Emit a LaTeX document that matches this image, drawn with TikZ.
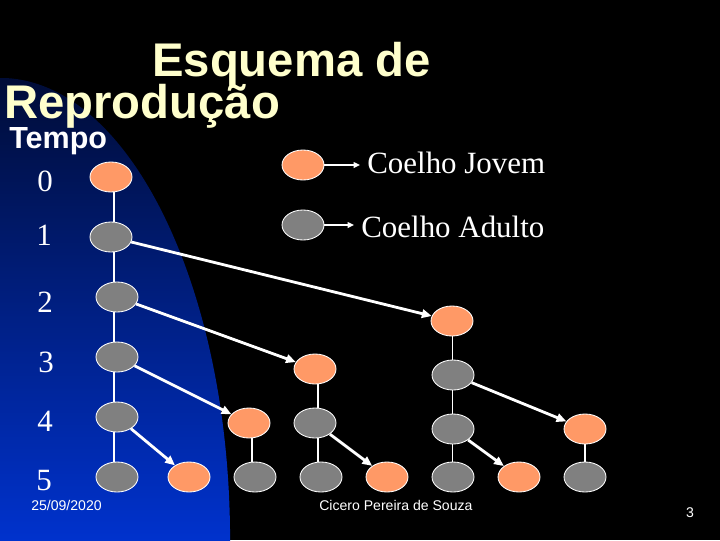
\documentclass[tikz,border=0pt]{standalone}
\usepackage{fontspec}
\setmainfont{Liberation Serif}
\setsansfont{Liberation Sans}
\usetikzlibrary{shapes.geometric,arrows.meta,calc}
\definecolor{titlecol}{RGB}{255,255,204}
\definecolor{youngcol}{RGB}{255,153,102}
\definecolor{adultcol}{RGB}{128,128,128}
\definecolor{bluetop}{RGB}{0,12,55}
\definecolor{bluebot}{RGB}{0,50,205}
\begin{document}
\begin{tikzpicture}[x=0.025cm,y=-0.025cm,
  rabbit/.style={ellipse,draw=white,line width=0.6pt,minimum width=1.05cm,minimum height=0.75cm,inner sep=0pt},
  jovem/.style={rabbit,fill=youngcol},
  adulto/.style={rabbit,fill=adultcol},
  link/.style={draw=white,line width=0.8pt},
  birth/.style={draw=white,line width=2pt,-{Triangle[length=7pt,width=6pt]}},
  legarrow/.style={draw=white,line width=1pt,-{Triangle[length=4.5pt,width=4pt]}},
  titletext/.style={text=titlecol,font=\sffamily\bfseries\fontsize{33.6}{38}\selectfont,anchor=base west,inner sep=0pt},
  tempotext/.style={text=white,font=\sffamily\bfseries\fontsize{21.7}{24}\selectfont,anchor=base west,inner sep=0pt},
  numtext/.style={text=white,font=\fontsize{22}{26}\selectfont,anchor=base,inner sep=0pt},
  legtext/.style={text=white,font=\fontsize{22}{26}\selectfont,anchor=base west,inner xsep=5pt,inner ysep=0pt},
  foottext/.style={text=white,font=\sffamily\fontsize{10}{12}\selectfont,anchor=base west,inner sep=0pt}]
% background
\fill[black] (0,0) rectangle (720,540);
\useasboundingbox (0,0) rectangle (720,540);
\begin{scope}
  \clip (0,540) ellipse [x radius=5.75cm, y radius=11.55cm];
  \shade[top color=bluetop,bottom color=bluebot] (0,78) rectangle (235,540);
\end{scope}
% titles
\node[titletext] (t1) at (152,76) {Esquema de};
\node[titletext] (t2) at (4,118) {Reprodução};
\node[tempotext] (tempo) at (9,148) {Tempo};
% time labels
\node[numtext] (k0) at (45,191) {0};
\node[numtext] (k1) at (44,245) {1};
\node[numtext] (k2) at (45,312) {2};
\node[numtext] (k3) at (46,372) {3};
\node[numtext] (k4) at (45,431) {4};
\node[numtext] (k5) at (44,490) {5};
% legend
\node[jovem] (lj) at (303,165) {};
\node[adulto] (la) at (303,225) {};
\node[legtext] (tj) at (360,173) {Coelho Jovem};
\node[legtext] (ta) at (354,237) {Coelho Adulto};
\draw[legarrow] (lj) -- (lj -| tj.west);
\draw[legarrow] (la) -- (la -| ta.west);
% rabbits
\node[jovem]  (n0) at (111,177) {};
\node[adulto] (n1) at (111,237) {};
\node[adulto] (n2) at (117,297) {};
\node[adulto] (n3) at (117,357) {};
\node[adulto] (n4) at (117,417) {};
\node[adulto] (n5) at (117,477) {};
\node[jovem]  (oC2) at (452,321) {};
\node[jovem]  (oB3) at (315,369) {};
\node[adulto] (gC3) at (453,375) {};
\node[jovem]  (oA4) at (249,423) {};
\node[adulto] (gB4) at (315,423) {};
\node[adulto] (gC4) at (453,429) {};
\node[jovem]  (oD4) at (585,429) {};
\node[jovem]  (r5b) at (189,477) {};
\node[adulto] (gA5) at (255,477) {};
\node[adulto] (gB5) at (321,477) {};
\node[jovem]  (oB5) at (387,477) {};
\node[adulto] (gC5) at (453,477) {};
\node[jovem]  (oC5) at (519,477) {};
\node[adulto] (gD5) at (585,477) {};
% column lines
\coordinate (c1) at ($(n0)!0.5!(n5)$);
\coordinate (cA) at ($(oA4)!0.5!(gA5)$);
\coordinate (cB) at ($(oB3)!0.5!(gB5)$);
\coordinate (cC) at ($(oC2)!0.5!(gC5)$);
\coordinate (cD) at ($(oD4)!0.5!(gD5)$);
\draw[link] (c1 |- n0.south) -- (c1 |- n1.north);
\draw[link] (c1 |- n1.south) -- (c1 |- n2.north);
\draw[link] (c1 |- n2.south) -- (c1 |- n3.north);
\draw[link] (c1 |- n3.south) -- (c1 |- n4.north);
\draw[link] (c1 |- n4.south) -- (c1 |- n5.north);
\draw[link] (cA |- oA4.south) -- (cA |- gA5.north);
\draw[link] (cB |- oB3.south) -- (cB |- gB4.north);
\draw[link] (cB |- gB4.south) -- (cB |- gB5.north);
\draw[link] (cC |- oC2.south) -- (cC |- gC3.north);
\draw[link] (cC |- gC3.south) -- (cC |- gC4.north);
\draw[link] (cC |- gC4.south) -- (cC |- gC5.north);
\draw[link] (cD |- oD4.south) -- (cD |- gD5.north);
% births
\draw[birth] (n1) -- (oC2);
\draw[birth] (n2) -- (oB3);
\draw[birth] (n3) -- (oA4);
\draw[birth] (n4) -- (r5b);
\draw[birth] (gB4) -- (oB5);
\draw[birth] (gC3) -- (oD4);
\draw[birth] (gC4) -- (oC5);
% footer
\node[foottext] (date) at (31,510) {25/09/2020};
\node[foottext] (author) at (319,510) {Cicero Pereira de Souza};
\node[foottext,anchor=base] (page) at (690,517) {3};
\end{tikzpicture}
\end{document}
